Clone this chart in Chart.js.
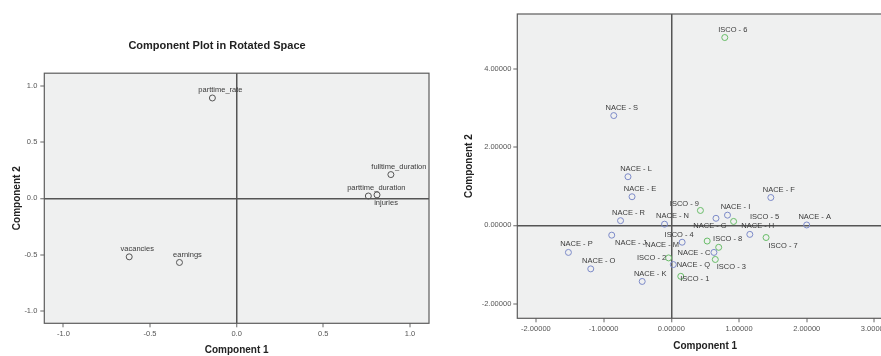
<!DOCTYPE html>
<html>
<head>
<meta charset="utf-8">
<script src="https://cdn.jsdelivr.net/npm/chart.js@4/dist/chart.umd.min.js"></script>
<style>
  body { margin: 0; width: 881px; height: 356px; overflow: hidden; background: #fff; position: relative; }
  canvas { position: absolute; top: 0; }
  #loadings { left: 0; }
  #scores { left: 440px; }
</style>
</head>
<body>
<canvas id="loadings" width="434" height="356"></canvas>
<canvas id="scores" width="470" height="356"></canvas>
<script>
// left plot: rotated component loadings
const varNames = ['parttime_rate', 'fulltime_duration', 'parttime_duration', 'injuries', 'vacancies', 'earnings'];
const varComp1 = [-0.14, 0.89, 0.76, 0.81, -0.62, -0.33];
const varComp2 = [0.89, 0.21, 0.02, 0.03, -0.52, -0.57];
const loadingTicks = [-1.0, -0.5, 0.0, 0.5, 1.0];

// right plot: component scores
const naceNames = ['NACE - A', 'NACE - C', 'NACE - E', 'NACE - F', 'NACE - G', 'NACE - H', 'NACE - I',
  'NACE - J', 'NACE - K', 'NACE - L', 'NACE - M', 'NACE - N', 'NACE - O', 'NACE - P', 'NACE - Q',
  'NACE - R', 'NACE - S'];
const naceComp1 = [2.00, 0.63, -0.58, 1.47, 0.66, 1.16, 0.83, -0.88, -0.43, -0.64, 0.16, -0.10, -1.19, -1.52, 0.03, -0.75, -0.85];
const naceComp2 = [0.01, -0.69, 0.73, 0.71, 0.18, -0.23, 0.26, -0.25, -1.43, 1.24, -0.43, 0.03, -1.11, -0.69, -1.00, 0.12, 2.80];
const iscoNames = ['ISCO - 1', 'ISCO - 2', 'ISCO - 3', 'ISCO - 4', 'ISCO - 5', 'ISCO - 6', 'ISCO - 7', 'ISCO - 8', 'ISCO - 9'];
const iscoComp1 = [0.14, -0.04, 0.65, 0.53, 0.92, 0.79, 1.40, 0.70, 0.43];
const iscoComp2 = [-1.30, -0.83, -0.87, -0.40, 0.10, 4.79, -0.31, -0.56, 0.38];
const scoreXTicks = [-2, -1, 0, 1, 2, 3];
const scoreYTicks = [-2, 0, 2, 4];

// where each point label sits relative to its marker (px), default is up-right
const labelNudge = {
  'injuries': [9, 8],
  'ISCO - 9': [-16, -7], 'ISCO - 5': [31, -5], 'NACE - G': [-6, 8], 'ISCO - 4': [-28, -6],
  'NACE - J': [19, 8], 'NACE - M': [-20, 3], 'ISCO - 8': [9, -8], 'ISCO - 7': [17, 8],
  'NACE - C': [-20, 1], 'ISCO - 2': [-17, 0], 'NACE - Q': [20, 0], 'ISCO - 3': [16, 7],
  'ISCO - 1': [14, 3]
};

const FONT = "'Liberation Sans', Arial, sans-serif";

const toPoints = (xs, ys) => xs.map((x, i) => ({x: x, y: ys[i]}));

const plotFrame = {
  id: 'plotFrame',
  beforeDraw(chart) {
    const {ctx, chartArea: a} = chart;
    ctx.save();
    ctx.fillStyle = '#eff0f0';
    ctx.fillRect(a.left, a.top, a.right - a.left, a.bottom - a.top);
    ctx.restore();
  },
  afterDraw(chart) {
    const {ctx, chartArea: a} = chart;
    ctx.save();
    ctx.strokeStyle = '#5c5c5c';
    ctx.lineWidth = 1.2;
    ctx.strokeRect(a.left, a.top, a.right - a.left, a.bottom - a.top);
    ctx.restore();
  }
};

const pointLabels = {
  id: 'pointLabels',
  afterDatasetsDraw(chart) {
    const ctx = chart.ctx;
    ctx.save();
    ctx.font = '7.5px ' + FONT;
    ctx.fillStyle = '#3a3a3a';
    ctx.textAlign = 'center';
    ctx.textBaseline = 'middle';
    chart.data.datasets.forEach((ds, di) => {
      chart.getDatasetMeta(di).data.forEach((pt, i) => {
        const name = ds.pointNames[i];
        const n = labelNudge[name] || [8, -8];
        ctx.fillText(name, pt.x + n[0], pt.y + n[1]);
      });
    });
    ctx.restore();
  }
};

function axis(opts) {
  return {
    type: 'linear',
    position: opts.position,
    min: opts.min,
    max: opts.max,
    afterBuildTicks: (scale) => { scale.ticks = opts.ticks.map(v => ({value: v})); },
    afterFit: (scale) => {
      if (opts.position === 'left') scale.width = opts.size;
      else scale.height = opts.size;
    },
    border: {display: false},
    grid: {
      drawOnChartArea: true,
      color: (c) => (c.tick && c.tick.value === 0) ? '#555' : 'rgba(0,0,0,0)',
      lineWidth: (c) => (c.tick && c.tick.value === 0) ? 1.5 : 0,
      tickColor: '#666',
      tickLength: 4,
      tickWidth: 1
    },
    ticks: {
      autoSkip: false,
      maxRotation: 0,
      padding: opts.tickPad,
      color: '#555',
      font: {family: FONT, size: 7.5},
      callback: (v) => Number(v).toFixed(opts.decimals)
    },
    title: {
      display: true,
      text: opts.title,
      color: '#222',
      font: {family: FONT, size: 10, weight: 'bold'},
      padding: opts.titlePad
    }
  };
}

new Chart(document.getElementById('loadings'), {
  type: 'scatter',
  data: {
    datasets: [{
      data: toPoints(varComp1, varComp2),
      pointNames: varNames,
      pointRadius: 3,
      pointBorderWidth: 1,
      borderColor: '#555',
      backgroundColor: 'rgba(0,0,0,0)'
    }]
  },
  options: {
    responsive: false,
    animation: false,
    layout: {padding: {top: 0, right: 0, bottom: 0, left: 0}},
    plugins: {
      legend: {display: false},
      tooltip: {enabled: false},
      title: {
        display: true,
        text: 'Component Plot in Rotated Space',
        color: '#222',
        font: {family: FONT, size: 11, weight: 'bold'},
        padding: {top: 39, bottom: 21}
      }
    },
    scales: {
      x: axis({position: 'bottom', min: -1.11, max: 1.11, ticks: loadingTicks, size: 32.7,
        tickPad: 2, decimals: 1, title: 'Component 1', titlePad: {top: 0, bottom: 0}}),
      y: axis({position: 'left', min: -1.11, max: 1.11, ticks: loadingTicks, size: 44.3,
        tickPad: 3, decimals: 1, title: 'Component 2', titlePad: {top: 11, bottom: 0}})
    }
  },
  plugins: [plotFrame, pointLabels]
});

new Chart(document.getElementById('scores'), {
  type: 'scatter',
  data: {
    datasets: [{
      data: toPoints(naceComp1, naceComp2),
      pointNames: naceNames,
      pointRadius: 3,
      pointBorderWidth: 1,
      borderColor: '#7d8bc9',
      backgroundColor: 'rgba(0,0,0,0)'
    }, {
      data: toPoints(iscoComp1, iscoComp2),
      pointNames: iscoNames,
      pointRadius: 3,
      pointBorderWidth: 1,
      borderColor: '#68bd68',
      backgroundColor: 'rgba(0,0,0,0)'
    }]
  },
  options: {
    responsive: false,
    animation: false,
    layout: {padding: {top: 14, right: 17, bottom: 0, left: 0}},
    plugins: {
      legend: {display: false},
      tooltip: {enabled: false}
    },
    scales: {
      x: axis({position: 'bottom', min: -2.275, max: 3.275, ticks: scoreXTicks, size: 37.7,
        tickPad: 2, decimals: 5, title: 'Component 1', titlePad: {top: 0, bottom: 4}}),
      y: axis({position: 'left', min: -2.37, max: 5.39, ticks: scoreYTicks, size: 77.3,
        tickPad: 2, decimals: 5, title: 'Component 2', titlePad: {top: 23, bottom: 0}})
    }
  },
  plugins: [plotFrame, pointLabels]
});
</script>
</body>
</html>
